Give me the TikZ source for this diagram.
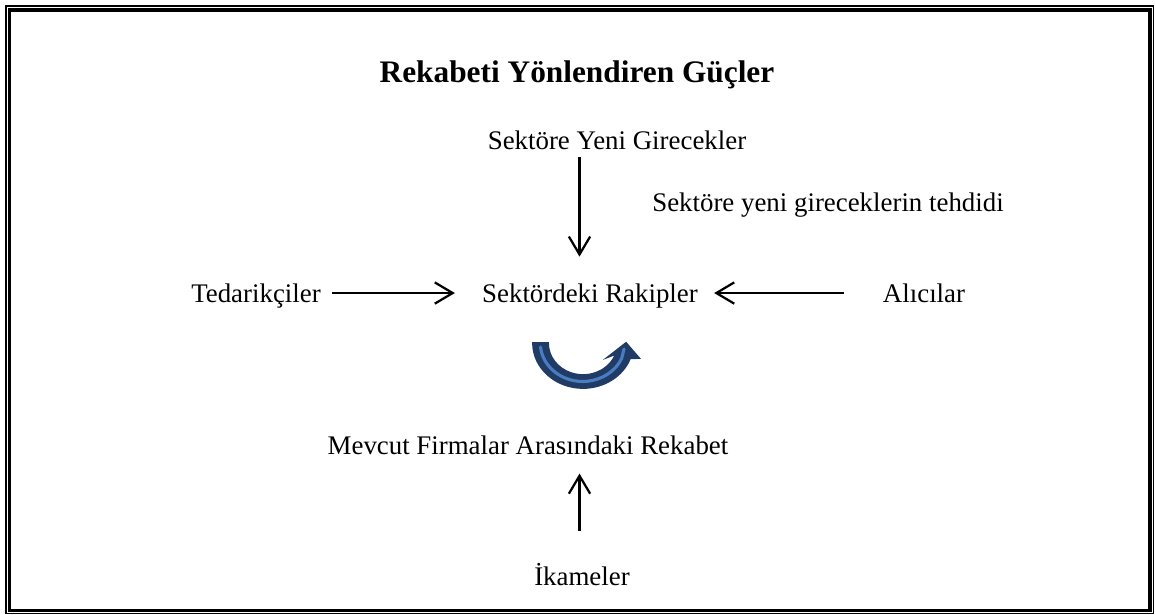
\documentclass[tikz,border=0pt]{standalone}
\usepackage{fontspec}
\setmainfont{Liberation Serif}
\usetikzlibrary{arrows.meta,calc}

\definecolor{bendedge}{HTML}{1F3B66}
\definecolor{bendfill}{HTML}{4A7CC0}

\begin{document}
\begin{tikzpicture}[
      x=0.4467pt,y=-0.4467pt,
      >={Straight Barb[length=8pt,width=9.5pt]},
      word/.style={
        anchor=base,inner sep=0pt,text height=9.5pt,text depth=0.6pt,
        font=\fontsize{12}{14}\selectfont
      },
      force/.style={->,line width=1pt},
    ]
    \useasboundingbox (0,0) rectangle (1155,615);
    % frame
    \draw[line width=0.5pt] (6,6) rectangle (1153.5,613.5);
    \draw[line width=1.4pt] (9.5,10) rectangle (1150,610.5);
    \node[anchor=base,inner sep=0pt,font=\fontsize{14}{16}\selectfont\bfseries] (title) at (577,83) {Rekabeti Yönlendiren Güçler};
    \node[word] (yeni) at (617,150) {Sektöre Yeni Girecekler};
    \node[word] (tehdit) at (828,212) {Sektöre yeni gireceklerin tehdidi};
    \node[word] (ted) at (256,303) {Tedarikçiler};
    \node[word] (rak) at (590,303) {Sektördeki Rakipler};
    \node[word] (ali) at (924,303) {Alıcılar};
    \node[word] (mev) at (528,455) {Mevcut Firmalar Arasındaki Rekabet};
    \node[word] (ika) at (582,586) {İkameler};
    \coordinate (axis) at (579.5,0);
    \draw[force,shorten <=2.5pt,shorten >=11pt] (yeni.south -| axis) -- (rak.north -| axis);
    \draw[force,shorten <=4.9pt,shorten >=12pt] (ted.east) -- (rak.west);
    \draw[force,shorten <=17.4pt,shorten >=7.1pt] (ali.west) -- (rak.east);
    \draw[force,shorten <=15pt,shorten >=7.5pt] (ika.north -| axis) -- (mev.south -| axis);
    % bent arrow
    \draw[line width=0.8pt,draw=bendedge,fill=bendedge,line join=miter]
      (533,343) arc[start angle=180,end angle=20,x radius=50,y radius=45]
      -- (639,358) -- (626,343) -- (608,357)
      -- (615.9,354) arc[start angle=20,end angle=180,x radius=35,y radius=32]
      -- cycle;
    \draw[bendfill,line width=1.4pt,line cap=round]
      (540.5,347) arc[start angle=174,end angle=24,x radius=42.5,y radius=38.5]
      -- (624,349);
  \end{tikzpicture}
\end{document}
